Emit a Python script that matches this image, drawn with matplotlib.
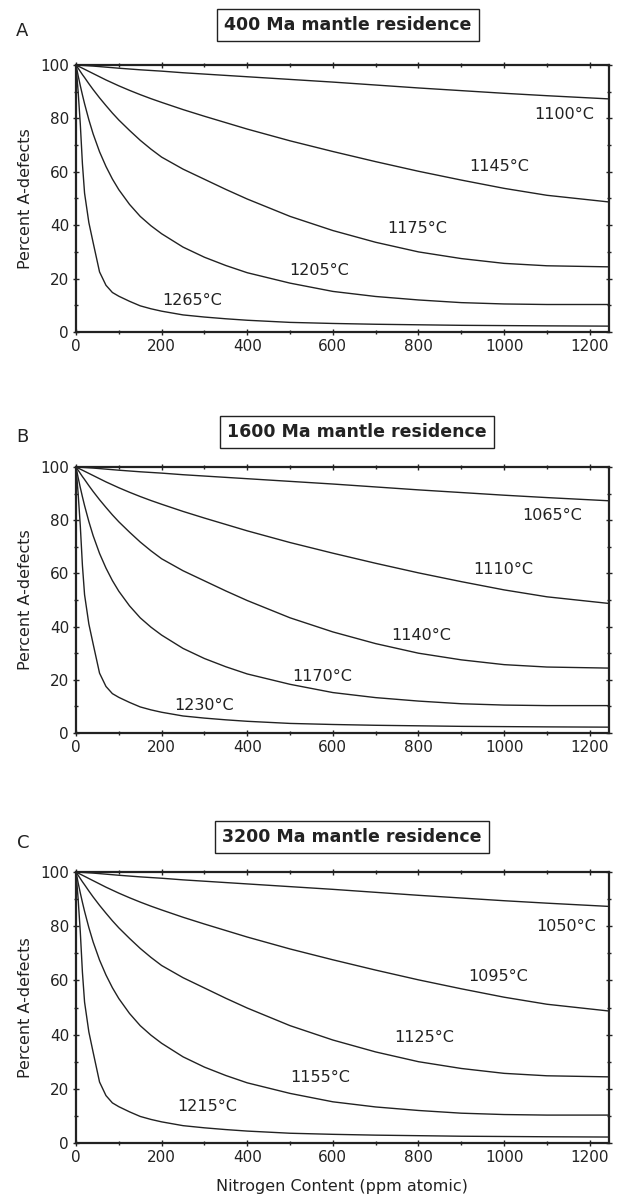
#-*- coding: utf-8 -*-

#-----------------------------------------------------#
# Percent A-defects vs nitrogen content for three     #
# mantle residence times (A, B, C)                     #
#-----------------------------------------------------#

import numpy as np
import matplotlib
matplotlib.use('Agg')
import matplotlib.pyplot as plt
from matplotlib.ticker import MultipleLocator

#----------------------------------------------------------#
# Dados                                    #
#----------------------------------------------------------#
nitrogen = [0, 5, 10, 15, 20, 30, 40, 55, 70, 85, 100, 125, 150, 175, 200, 250,
            300, 350, 400, 500, 600, 700, 800, 900, 1000, 1100, 1245]

# as cinco curvas sao praticamente as mesmas nos tres paineis
curve1 = [100, 99.95, 99.9, 99.85, 99.8, 99.7, 99.6, 99.4, 99.2, 99.0, 98.8, 98.5, 98.2, 97.95,
          97.7, 97.1, 96.6, 96.1, 95.6, 94.6, 93.6, 92.5, 91.4, 90.4, 89.4, 88.5, 87.3]
curve2 = [100, 99.6, 99.2, 98.8, 98.4, 97.6, 96.8, 95.6, 94.4, 93.3, 92.2, 90.5, 88.9, 87.4,
          86.0, 83.3, 80.8, 78.4, 76.0, 71.6, 67.6, 63.8, 60.2, 56.9, 53.8, 51.2, 48.7]
curve3 = [100, 98.8, 97.6, 96.4, 95.3, 93.0, 90.8, 87.7, 84.8, 82.0, 79.4, 75.5, 71.8, 68.5,
          65.5, 61.0, 57.2, 53.4, 49.8, 43.3, 38.0, 33.6, 30.0, 27.5, 25.7, 24.8, 24.4]
curve4 = [100, 96.0, 92.3, 88.8, 85.5, 79.5, 74.2, 67.5, 62.0, 57.3, 53.3, 47.8, 43.3, 39.8,
          36.8, 31.8, 28.0, 24.9, 22.2, 18.3, 15.2, 13.3, 12.0, 11.0, 10.5, 10.3, 10.3]
curve5 = [100, 90, 78, 63, 52, 41, 33.5, 22.5, 17.5, 14.8, 13.4, 11.5, 9.8, 8.7,
          7.8, 6.4, 5.6, 4.95, 4.4, 3.6, 3.2, 2.9, 2.7, 2.5, 2.4, 2.3, 2.2]

titles = ['400 Ma mantle residence', '1600 Ma mantle residence', '3200 Ma mantle residence']
letters = ['A', 'B', 'C']

temps_a = ['1100°C', '1145°C', '1175°C', '1205°C', '1265°C']
temps_b = ['1065°C', '1110°C', '1140°C', '1170°C', '1230°C']
temps_c = ['1050°C', '1095°C', '1125°C', '1155°C', '1215°C']

# posicao dos rotulos (x, y) em unidades dos dados
lab_a = [(1141, 81.3), (989, 61.9), (798, 38.8), (568, 23.1), (272, 11.9)]
lab_b = [(1112, 81.6), (998, 61.3), (807, 36.5), (574, 21.2), (298, 10.5)]
lab_c = [(1145, 79.8), (986, 61.4), (813, 39.0), (571, 24.3), (307, 13.3)]

#----------------------------------------------------------#
# Layout                                                   #
#----------------------------------------------------------#
plt.rcParams['font.family'] = ['DejaVu Sans']
W, H = 617, 1200
left, width = 76 / W, 533 / W
panels = [(65, 332), (467, 733), (872, 1143)]     # topo / base em px
title_pos = [(348, 25), (357, 432), (352, 837)]
letter_pos = [(22, 31), (22, 437), (23, 843)]

curves = [curve1, curve2, curve3, curve4, curve5]
temps = [temps_a, temps_b, temps_c]
labs = [lab_a, lab_b, lab_c]

fig = plt.figure(figsize=(W / 100, H / 100), dpi=100)

for k in range(3):
    top, bot = panels[k]
    ax = fig.add_axes([left, 1 - bot / H, width, (bot - top) / H])
    for c in curves:
        ax.plot(nitrogen, c, color='#222222', lw=1.0)
    for t, (tx, ty) in zip(temps[k], labs[k]):
        ax.text(tx, ty, t, ha='center', va='center', fontsize=11.5, color='#222222')

    ax.set_xlim(0, 1245)
    ax.set_ylim(0, 100)
    ax.xaxis.set_major_locator(MultipleLocator(200))
    ax.xaxis.set_minor_locator(MultipleLocator(100))
    ax.yaxis.set_major_locator(MultipleLocator(20))
    ax.yaxis.set_minor_locator(MultipleLocator(10))
    ax.tick_params(which='both', direction='inout', top=True, right=True,
                   labelsize=11, width=1.0, colors='#222222', pad=3)
    ax.tick_params(which='major', length=4)
    ax.tick_params(which='minor', length=3)
    for s in ax.spines.values():
        s.set_linewidth(1.6)
        s.set_color('#222222')
    ax.set_ylabel('Percent A-defects', fontsize=11.5, color='#222222', labelpad=5)

    tx, ty = title_pos[k]
    fig.text(tx / W, 1 - ty / H, titles[k], ha='center', va='center', fontsize=12.5,
             fontweight='bold', color='#222222',
             bbox=dict(boxstyle='square,pad=0.4', fc='white', ec='#222222', lw=1.0))
    lx, ly = letter_pos[k]
    fig.text(lx / W, 1 - ly / H, letters[k], ha='center', va='center', fontsize=13,
             color='#222222')

# eixo x comum
fig.text(342 / W, 1 - 1186 / H, 'Nitrogen Content (ppm atomic)', ha='center', va='center',
         fontsize=11.5, color='#222222')

plt.savefig('out.png', dpi=100)
